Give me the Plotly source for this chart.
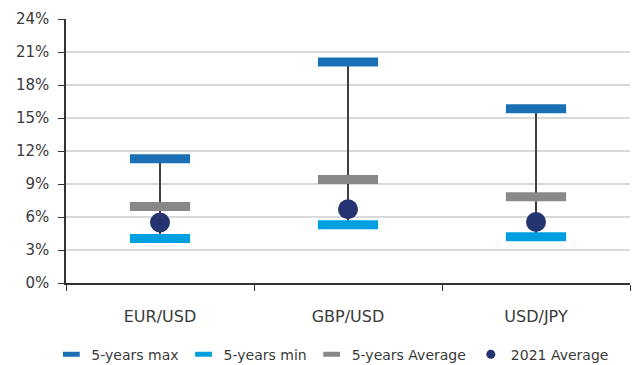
import plotly.graph_objects as go

pairs = ["EUR/USD", "GBP/USD", "USD/JPY"]
max_5y = [11.3, 20.1, 15.85]
min_5y = [4.05, 5.3, 4.2]
avg_5y = [6.95, 9.4, 7.85]
avg_2021 = [5.5, 6.7, 5.55]
y_ticks = [0, 3, 6, 9, 12, 15, 18, 21, 24]

FONT = "DejaVu Sans, sans-serif"
TEXT = "#3a3a3a"

fig = go.Figure()

# min-to-max range whiskers
wx, wy = [], []
for p, lo, hi in zip(pairs, min_5y, max_5y):
    wx += [p, p, None]
    wy += [lo, hi, None]
fig.add_trace(go.Scatter(x=wx, y=wy, mode="lines", line=dict(color="#404040", width=2),
                         showlegend=False, hoverinfo="skip"))

series = [
    ("5-years max", max_5y, "#1a6fb5"),
    ("5-years min", min_5y, "#00a0e0"),
    ("5-years Average", avg_5y, "#888888"),
]
for name, vals, color in series:
    # flat bar-style markers on the chart
    fig.add_trace(go.Scatter(
        x=pairs, y=vals, mode="markers", name=name, legendgroup=name, showlegend=False,
        marker=dict(symbol="line-ew", size=43, color=color,
                    line=dict(color=color, width=9)),
    ))
    # compact legend swatch
    fig.add_trace(go.Scatter(
        x=[None], y=[None], mode="markers", name=name, legendgroup=name,
        marker=dict(symbol="line-ew", size=12, color=color,
                    line=dict(color=color, width=5)),
    ))

fig.add_trace(go.Scatter(
    x=pairs, y=avg_2021, mode="markers", name="2021 Average", legendgroup="2021",
    showlegend=False, marker=dict(symbol="circle", size=20, color="#253370"),
))
fig.add_trace(go.Scatter(
    x=[None], y=[None], mode="markers", name="2021 Average", legendgroup="2021",
    marker=dict(symbol="circle", size=9, color="#253370"),
))

fig.update_layout(
    width=634, height=365,
    margin=dict(l=66, r=4, t=19, b=82, autoexpand=False),
    plot_bgcolor="white", paper_bgcolor="white",
    font=dict(family=FONT, size=15, color=TEXT),
    legend=dict(orientation="h", xref="container", x=0.525, xanchor="center",
                yref="container", y=0.072, yanchor="top",
                font=dict(size=14, color=TEXT), itemwidth=30,
                tracegroupgap=0, traceorder="normal"),
    showlegend=True,
)
fig.update_xaxes(
    type="category", range=[-0.5, 2.5], tickson="boundaries",
    showline=True, linecolor="#333333", linewidth=1.5,
    ticks="outside", ticklen=6, tickcolor="#333333",
    showgrid=False, ticklabelstandoff=18, tickfont=dict(size=16),
)
fig.update_yaxes(
    range=[0, 24], tickvals=y_ticks, ticktext=[f"{v}%" for v in y_ticks],
    showline=True, linecolor="#333333", linewidth=1.5,
    ticks="outside", ticklen=6, tickcolor="#333333", ticklabelstandoff=6,
    showgrid=True, gridcolor="#d9d9d9", gridwidth=1.5, zeroline=False,
)

fig.write_html("out.html")
